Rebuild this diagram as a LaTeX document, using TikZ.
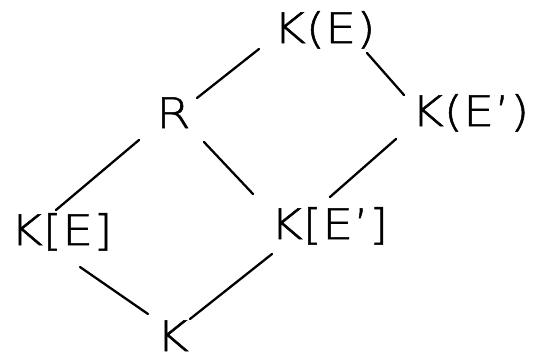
\documentclass[tikz,border=0pt]{standalone}
\usepackage{fontspec}
\setmainfont{DejaVu Sans}[UprightFont=* ExtraLight, FakeStretch=1.18, FakeBold=1.2]
\begin{document}
\begin{tikzpicture}[x=1pt,y=-1pt,
  field/.style={inner sep=0pt, anchor=base west, font=\fontsize{42}{42}\selectfont},
  link/.style={line width=2.3pt, line cap=round}]
\useasboundingbox (0,0) rectangle (547,359);
% the lattice of fields
\node[field] (KE)   at (273,43)  {K(E)};
\node[field] (R)    at (156,128) {R};
\node[field] (KEp)  at (411,126) {K(E')};
\node[field] (KEb)  at (10,245)  {K[E]};
\node[field] (KEpb) at (270,239) {K[E']};
\node[field] (K)    at (156,351) {K};
% inclusions
\draw[link] ([shift={(41,-30)}]R.base west)    -- ([shift={(-14,6)}]KE.base west);
\draw[link] ([shift={(94,10)}]KE.base west)    -- ([shift={(-7,-31)}]KEp.base west);
\draw[link] ([shift={(-17,12)}]R.base west)    -- ([shift={(46,-35)}]KEb.base west);
\draw[link] ([shift={(48,14)}]R.base west)     -- ([shift={(-17,-45)}]KEpb.base west);
\draw[link] ([shift={(-15,13)}]KEp.base west)  -- ([shift={(60,-42)}]KEpb.base west);
\draw[link] ([shift={(70,22)}]KEb.base west)   -- ([shift={(-8,-37)}]K.base west);
\draw[link] ([shift={(2,15)}]KEpb.base west)   -- ([shift={(34,-32)}]K.base west);
\end{tikzpicture}
\end{document}
